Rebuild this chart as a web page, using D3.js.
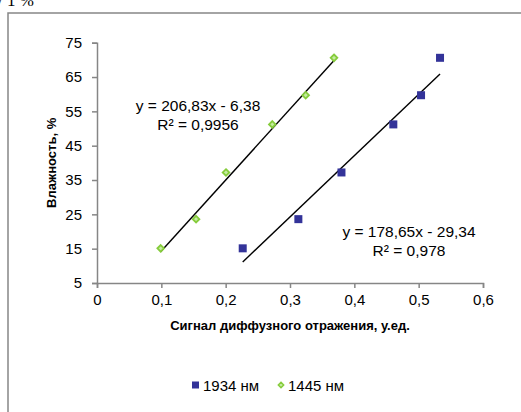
<!DOCTYPE html>
<html>
<head>
<meta charset="utf-8">
<script src="https://cdn.jsdelivr.net/npm/d3@7/dist/d3.min.js"></script>
<style>
    body { margin: 0; background: #fff; }
    svg { display: block; font-family: "Liberation Sans", Arial, sans-serif; }
</style>
</head>
<body>
<div id="chart"></div>
<script>
    // данные
    const humidity = [15.1, 23.6, 37.2, 51.2, 59.7, 70.6];
    const signal1934 = [0.2265, 0.313, 0.380, 0.4606, 0.5037, 0.5332];
    const signal1445 = [0.099, 0.154, 0.2005, 0.2725, 0.3244, 0.3684];
    const fit1934 = [178.65, -29.34];
    const fit1445 = [206.83, -6.38];
    const xTicks = [0, 0.1, 0.2, 0.3, 0.4, 0.5, 0.6];
    const yTicks = [5, 15, 25, 35, 45, 55, 65, 75];
    const seriesNames = ["1934 нм", "1445 нм"];

    const width = 521, height = 412;
    const blue = "#333399", green = "#86cc3c", axisColor = "#868686";

    let svg = d3.select("#chart")
        .append("svg")
        .attr("width", width)
        .attr("height", height);

    // обрезанный текст документа над рамкой
    svg.append("text")
        .attr("x", -2)
        .attr("y", 6)
        .style("font-family", "'Liberation Serif', serif")
        .style("font-size", "17px")
        .text("/ 1 %");

    // рамка диаграммы
    svg.append("path")
        .attr("d", "M8," + height + "V13H" + width)
        .attr("fill", "none")
        .attr("stroke", axisColor)
        .attr("stroke-width", 1.5);

    let x = d3.scaleLinear().domain([0, 0.6]).range([97, 483]);
    let y = d3.scaleLinear().domain([5, 75]).range([283, 42.7]);

    // оси
    let xAxis = svg.append("g")
        .attr("transform", "translate(0," + y(5) + ")")
        .call(d3.axisBottom(x).tickValues(xTicks).tickSize(5).tickPadding(6)
            .tickFormat(d => d3.format(".1f")(d).replace(".", ",").replace(/^0,0$/, "0")));
    let yAxis = svg.append("g")
        .attr("transform", "translate(" + x(0) + ",0)")
        .call(d3.axisLeft(y).tickValues(yTicks).tickSize(5).tickPadding(10));

    [xAxis, yAxis].forEach(a => {
        a.select(".domain").attr("stroke", axisColor).attr("stroke-width", 1.5);
        a.selectAll(".tick line").attr("stroke", axisColor).attr("stroke-width", 1.5);
        a.selectAll("text")
            .attr("fill", "#000")
            .style("font-family", "'Liberation Sans', Arial, sans-serif")
            .style("font-size", "15px");
    });

    // подписи осей
    svg.append("text")
        .attr("x", (x(0) + x(0.6)) / 2)
        .attr("y", 330)
        .attr("text-anchor", "middle")
        .style("font-size", "13px")
        .style("font-weight", "bold")
        .text("Сигнал диффузного отражения, у.ед.");

    svg.append("text")
        .attr("transform", "translate(56," + (y(5) + y(75)) / 2 + ") rotate(-90)")
        .attr("text-anchor", "middle")
        .style("font-size", "13px")
        .style("font-weight", "bold")
        .text("Влажность, %");

    // линии тренда
    function trend(xs, fit) {
        let x0 = d3.min(xs), x1 = d3.max(xs);
        svg.append("line")
            .attr("x1", x(x0)).attr("y1", y(fit[0] * x0 + fit[1]))
            .attr("x2", x(x1)).attr("y2", y(fit[0] * x1 + fit[1]))
            .attr("stroke", "#000")
            .attr("stroke-width", 1.4);
    }
    trend(signal1445, fit1445);
    trend(signal1934, fit1934);

    // точки
    svg.append("g").selectAll("rect")
        .data(signal1934)
        .enter()
        .append("rect")
        .attr("x", d => x(d) - 4)
        .attr("y", (d, i) => y(humidity[i]) - 4)
        .attr("width", 8)
        .attr("height", 8)
        .attr("fill", blue);

    let diamond = d3.symbol().type(d3.symbolDiamond2).size(28);
    svg.append("g").selectAll("path")
        .data(signal1445)
        .enter()
        .append("path")
        .attr("d", diamond)
        .attr("transform", (d, i) => "translate(" + x(d) + "," + y(humidity[i]) + ")")
        .attr("fill", "#c4eca0")
        .attr("stroke", green)
        .attr("stroke-width", 1.8);

    // уравнения
    function equation(cx, by, eq, r2) {
        let t = svg.append("text")
            .attr("text-anchor", "middle")
            .style("font-size", "15.5px");
        t.append("tspan").attr("x", cx).attr("y", by).text(eq);
        t.append("tspan").attr("x", cx).attr("y", by + 19).text(r2);
    }
    equation(198, 111, "y = 206,83x - 6,38", "R² = 0,9956");
    equation(409, 237, "y = 178,65x - 29,34", "R² = 0,978");

    // легенда
    let legend = svg.append("g").style("font-size", "15px");
    legend.append("rect")
        .attr("x", 192).attr("y", 381.5)
        .attr("width", 7).attr("height", 7)
        .attr("fill", blue);
    legend.append("text").attr("x", 203).attr("y", 391).text(seriesNames[0]);
    legend.append("path")
        .attr("d", d3.symbol().type(d3.symbolDiamond2).size(18))
        .attr("transform", "translate(281,385)")
        .attr("fill", "#c4eca0")
        .attr("stroke", green)
        .attr("stroke-width", 1.5);
    legend.append("text").attr("x", 288).attr("y", 391).text(seriesNames[1]);
</script>
</body>
</html>
